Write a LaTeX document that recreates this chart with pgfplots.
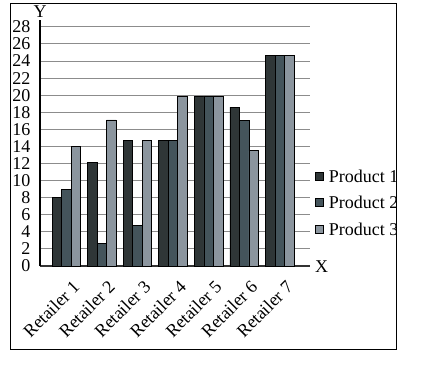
\documentclass[border=0pt]{standalone}
\usepackage{fontspec}
\setmainfont{Liberation Serif}
\usepackage{pgfplots}
\pgfplotsset{compat=1.18}
\definecolor{pone}{HTML}{2F3637}
\definecolor{ptwo}{HTML}{44545B}
\definecolor{pthree}{HTML}{8B959E}
\begin{document}
\begin{tikzpicture}
\path[use as bounding box, fill=white] (0pt,0pt) rectangle (422pt,373pt);
\begin{axis}[
  at={(40pt,107pt)}, anchor=south west,
  scale only axis, width=270pt, height=246pt,
  xmin=-0.74, xmax=6.85, ymin=0, ymax=28.8,
  ytick={0,2,...,28}, xtick={0,...,6},
  xticklabels={Retailer 1,Retailer 2,Retailer 3,Retailer 4,Retailer 5,Retailer 6,Retailer 7},
  axis x line=bottom, axis y line=left,
  x axis line style={-, line width=1.3pt, draw=black!80},
  y axis line style={-, line width=1.2pt, draw=black},
  ymajorgrids, grid style={draw=black!45, line width=0.9pt},
  major tick length=0pt,
  tick label style={font=\fontsize{18}{20}\selectfont},
  /pgf/number format/assume math mode=true,
  yticklabel style={xshift=-6pt},
  xticklabel style={xshift=10pt, yshift=-18pt, rotate=45, anchor=east, inner sep=0pt},
  ybar=0pt, bar width=9.5pt,
  legend style={at={(1.0185,0.258)}, anchor=west, draw=none, fill=none,
    font=\fontsize{18}{20}\selectfont, row sep=14pt, inner sep=0pt,
    nodes={inner sep=0pt, text depth=0pt},
    /tikz/every odd column/.append style={column sep=5pt}},
  legend cell align=left,
  legend image code/.code={\fill[#1] (0pt,-4pt) rectangle (8pt,4pt);},
]
\addplot[fill=pone, draw=black, line width=0.6pt] coordinates {(0,8) (1,12.1) (2,14.7) (3,14.7) (4,19.9) (5,18.6) (6,24.7)};
\addplot[fill=ptwo, draw=black, line width=0.6pt] coordinates {(0,9) (1,2.6) (2,4.8) (3,14.7) (4,19.9) (5,17) (6,24.7)};
\addplot[fill=pthree, draw=black, line width=0.6pt] coordinates {(0,14) (1,17.1) (2,14.7) (3,19.9) (4,19.9) (5,13.5) (6,24.7)};
\legend{Product 1,Product 2,Product 3}
\end{axis}
\fill[white] (396.5pt,0pt) rectangle (422pt,373pt);
\draw[line width=1pt] (10.5pt,23.5pt) rectangle (396pt,369.5pt);
\node[anchor=west, font=\fontsize{18}{20}\selectfont, inner sep=0pt] at (315pt,106pt) {X};
\node[font=\fontsize{18}{20}\selectfont, inner sep=0pt] at (40pt,361pt) {Y};
\end{tikzpicture}
\end{document}
